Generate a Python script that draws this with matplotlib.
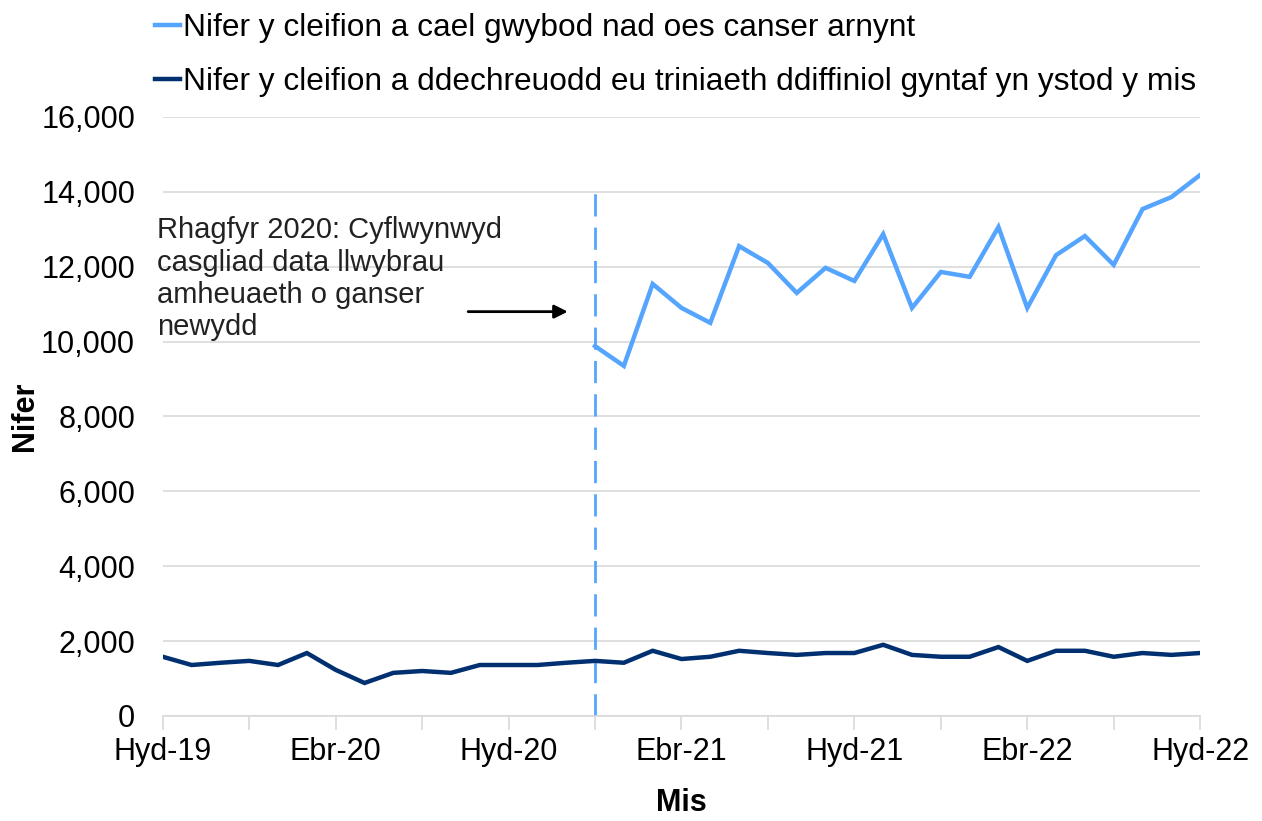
import matplotlib
matplotlib.use("Agg")
import matplotlib.pyplot as plt
import numpy as np

plt.rcParams["font.family"] = ["Liberation Sans", "DejaVu Sans"]

# ── 데이터 ──
months = ["Hyd-19", "Tach-19", "Rhag-19", "Ion-20", "Chwef-20", "Maw-20", "Ebr-20", "Mai-20",
          "Meh-20", "Gorff-20", "Awst-20", "Medi-20", "Hyd-20", "Tach-20", "Rhag-20", "Ion-21",
          "Chwef-21", "Maw-21", "Ebr-21", "Mai-21", "Meh-21", "Gorff-21", "Awst-21", "Medi-21",
          "Hyd-21", "Tach-21", "Rhag-21", "Ion-22", "Chwef-22", "Maw-22", "Ebr-22", "Mai-22",
          "Meh-22", "Gorff-22", "Awst-22", "Medi-22", "Hyd-22"]

# Nifer y cleifion a gafodd wybod nad oes canser (o Ion-21)
no_cancer = [None] * 15 + [
    9880, 9350, 11540, 10900, 10500, 12550, 12100, 11300, 11970, 11620, 12870,
    10900, 11860, 11730, 13060, 10900, 12310, 12820, 12050, 13540, 13860, 14450]

# Nifer y cleifion a ddechreuodd driniaeth
treatment = [1580, 1360, 1420, 1470, 1360, 1680, 1230, 880, 1150, 1200, 1150, 1360,
             1360, 1360, 1420, 1470, 1420, 1740, 1520, 1580, 1740, 1680, 1630, 1680,
             1680, 1900, 1630, 1580, 1580, 1840, 1470, 1740, 1740, 1580, 1680, 1630, 1680]

label_no_cancer = "Nifer y cleifion a cael gwybod nad oes canser arnynt"
label_treat = "Nifer y cleifion a ddechreuodd eu triniaeth ddiffiniol gyntaf yn ystod y mis"
annot_text = "Rhagfyr 2020: Cyflwynwyd\ncasgliad data llwybrau\namheuaeth o ganser\nnewydd"

LIGHT = "#55a5ff"
NAVY = "#003070"

fig = plt.figure(figsize=(12.62, 8.21), dpi=100)
ax = fig.add_axes([0.129, 0.128, 0.822, 0.7295])

x = np.arange(len(months))
nc = np.array([np.nan if v is None else v for v in no_cancer], dtype=float)

l1, = ax.plot(x, nc, color=LIGHT, lw=3.2, solid_joinstyle="miter", label=label_no_cancer)
l2, = ax.plot(x, treatment, color=NAVY, lw=3.2, solid_joinstyle="miter", label=label_treat)

# llinell doredig
start = months.index("Ion-21")
ax.plot([start, start], [0, 14000], color=LIGHT, lw=2, dashes=(8, 4), zorder=1)

ax.set_xlim(0, len(months) - 1)
ax.set_ylim(0, 16000)
ax.set_yticks(np.arange(0, 16001, 2000))
ax.yaxis.set_major_formatter(plt.FuncFormatter(lambda v, _: f"{int(v):,}"))
ax.set_xticks(x[::6])
ax.set_xticklabels(months[::6])
ax.set_xticks(x[::3], minor=True)

ax.grid(axis="y", color="#d9d9d9", lw=1.2)
ax.set_axisbelow(True)
for s in ["top", "right", "left"]:
    ax.spines[s].set_visible(False)
ax.spines["bottom"].set_color("#d9d9d9")
ax.spines["bottom"].set_linewidth(1.2)
ax.tick_params(axis="y", length=0, labelsize=22, pad=20)
ax.tick_params(axis="x", which="both", length=10, color="#d9d9d9", width=1.2,
               labelsize=22, pad=5)

ax.set_ylabel("Nifer", fontsize=22, fontweight="bold", labelpad=1)
ax.set_xlabel("Mis", fontsize=22, fontweight="bold", labelpad=15)

ax.text(-0.2, 13350, annot_text, fontsize=21, va="top", ha="left",
        linespacing=1.2, color="#222222")
ax.annotate("", xy=(start - 0.85, 10800), xytext=(10.5, 10800),
            arrowprops=dict(arrowstyle="-|>", color="black", lw=2, mutation_scale=20))

fig.legend(handles=[l1, l2], loc="upper left", bbox_to_anchor=(0.1228, 0.984),
           frameon=False, fontsize=22.8, handlelength=0.8, handletextpad=0.1,
           labelspacing=0.75, borderaxespad=0, borderpad=0)

fig.savefig("out.png", dpi=100)
